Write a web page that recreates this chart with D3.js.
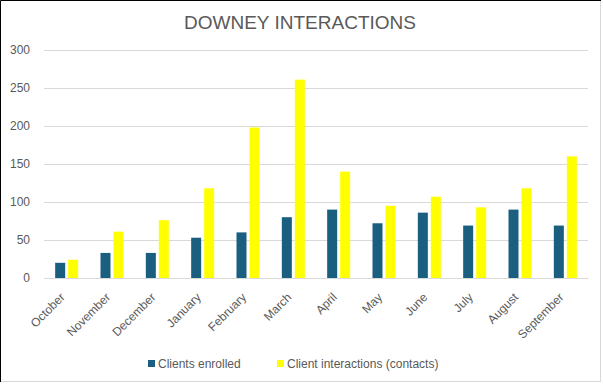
<!DOCTYPE html>
<html>
<head>
<meta charset="utf-8">
<script src="https://cdn.jsdelivr.net/npm/d3@7"></script>
<style>
  body { margin: 0; background: #fff; }
  text { font-family: "Liberation Sans", Arial, sans-serif; }
</style>
</head>
<body>
<div id="chart"></div>
<script>
// Data
const months = ["October", "November", "December", "January", "February", "March",
  "April", "May", "June", "July", "August", "September"];
const enrolled = [20, 33, 33, 53, 60, 80, 90, 72, 86, 69, 90, 69];
const interactions = [24, 61, 76, 118, 198, 261, 140, 95, 107, 93, 118, 160];
const seriesNames = ["Clients enrolled", "Client interactions (contacts)"];
const yTicks = [0, 50, 100, 150, 200, 250, 300];

const W = 603, H = 384;
const margin = { top: 50, right: 15, bottom: 106, left: 44 };
const width = W - margin.left - margin.right;
const height = H - margin.top - margin.bottom;
const colors = ["#1a5e80", "#ffff00"];
const textColor = "#595959";

const svg = d3.select("#chart").append("svg")
  .attr("width", W)
  .attr("height", H);

// chart frame
svg.append("rect")
  .attr("x", 0.5).attr("y", 0.5)
  .attr("width", W - 3).attr("height", H - 3)
  .attr("fill", "#fff")
  .attr("stroke", "#d9d9d9");
svg.append("path")
  .attr("d", `M0.5,${H - 2}V0.5H${W - 2}`)
  .attr("fill", "none")
  .attr("stroke", "#000");

svg.append("text")
  .attr("x", 300).attr("y", 29)
  .attr("text-anchor", "middle")
  .attr("font-size", 19)
  .attr("fill", textColor)
  .text("DOWNEY INTERACTIONS");

const g = svg.append("g")
  .attr("transform", `translate(${margin.left},${margin.top})`);

const x = d3.scaleBand()
  .domain(months)
  .range([0, width]);

const y = d3.scaleLinear()
  .domain([0, 300])
  .range([height, 0]);

// gridlines + y labels
const yAxis = g.append("g")
  .call(d3.axisLeft(y).tickValues(yTicks).tickSize(-width).tickPadding(14));
yAxis.select(".domain").remove();
yAxis.selectAll(".tick line").attr("stroke", "#d9d9d9");
yAxis.selectAll(".tick text")
  .attr("font-size", 12)
  .attr("fill", textColor)
  .style("font-family", '"Liberation Sans", Arial, sans-serif');

// x labels
const xAxis = g.append("g")
  .attr("transform", `translate(0,${height})`)
  .call(d3.axisBottom(x).tickSize(0));
xAxis.select(".domain").attr("stroke", "#d9d9d9");
xAxis.selectAll(".tick text")
  .attr("font-size", 12)
  .attr("fill", textColor)
  .style("font-family", '"Liberation Sans", Arial, sans-serif')
  .attr("text-anchor", "end")
  .attr("x", 0)
  .attr("y", 0)
  .attr("dy", "0.35em")
  .attr("transform", "translate(-4,17) rotate(-45)");

// bars
const barW = 10, gap = 3;
const sub = d3.scaleOrdinal().domain([0, 1]).range([-(barW + gap / 2), gap / 2]);
[enrolled, interactions].forEach((vals, si) => {
  g.selectAll(".bar" + si)
    .data(vals)
    .enter()
    .append("rect")
    .attr("x", (d, i) => x(months[i]) + x.bandwidth() / 2 + sub(si))
    .attr("y", d => y(d))
    .attr("width", barW)
    .attr("height", d => height - y(d))
    .attr("fill", colors[si]);
});

// legend
const legendX = [148, 277];
seriesNames.forEach((name, i) => {
  const lg = svg.append("g").attr("transform", `translate(${legendX[i]},360)`);
  lg.append("rect").attr("width", 7).attr("height", 7).attr("fill", colors[i]);
  lg.append("text")
    .attr("x", 10).attr("y", 7.5)
    .attr("font-size", 12)
    .attr("fill", textColor)
    .text(name);
});
</script>
</body>
</html>
